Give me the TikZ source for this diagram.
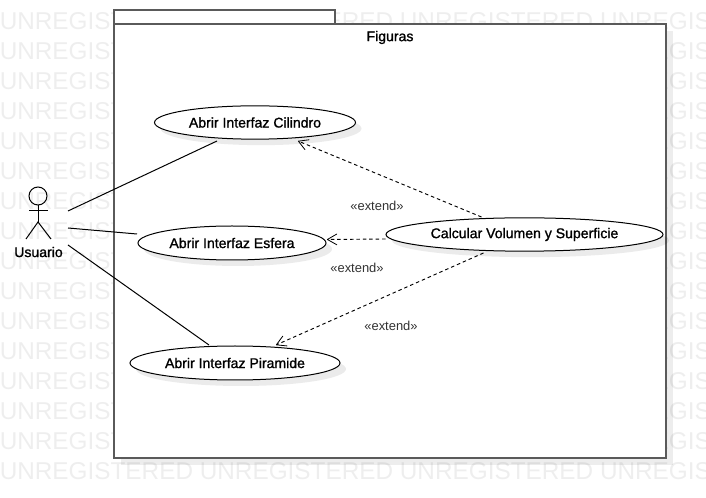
\documentclass[tikz,border=0pt]{standalone}
\usepackage{fontspec}
\setmainfont{Liberation Sans}
\newfontfamily\strongfont[FakeBold=1.2]{Liberation Sans}
\usetikzlibrary{arrows.meta,shadows,shapes.geometric}
\definecolor{wmark}{HTML}{EEEEEE}
\definecolor{framec}{HTML}{5A5A5A}
\definecolor{lblc}{HTML}{333333}
\tikzset{
  x=0.75pt,y=-0.75pt,
  wmtext/.style={anchor=base west,inner sep=0pt,text=wmark,font=\fontsize{18.25pt}{18.25pt}\selectfont},
  usecase/.style={ellipse,draw=black,fill=white,line width=0.75pt,inner sep=0pt,font=\fontsize{10.55pt}{12pt}\strongfont,
    drop shadow={shadow xshift=4.5pt,shadow yshift=-4.5pt,opacity=0.08,fill=black}},
  frameline/.style={draw=framec,fill=white,line width=1.2pt},
  assoc/.style={draw=black,line width=0.75pt},
  extendline/.style={draw=black,line width=0.7pt,dash pattern=on 2.6pt off 2.2pt,-{Straight Barb[length=7pt,width=8pt,line width=0.6pt,round]}},
  extlabel/.style={inner sep=0pt,text=lblc,font=\fontsize{9.7pt}{11pt}\selectfont},
  strong/.style={inner sep=0pt,text=black,font=\fontsize{10.55pt}{12pt}\strongfont},
  actorline/.style={draw=black,line width=0.75pt}
}
\begin{document}
\begin{tikzpicture}
\useasboundingbox (0,0) rectangle (706,498);
\clip (0,0) rectangle (706,498);
\foreach \k in {0,...,15}{
  \node[wmtext] (wm\k) at (-0.5,{29.5+30*\k}) {UNREGISTERED UNREGISTERED UNREGISTERED UNREGISTERED};
}
% frame
\fill[black,opacity=0.07] (121,31) rectangle (673,465);
\draw[frameline] (114,10) rectangle (335,24);
\draw[frameline] (114,24) rectangle (666,458);
\node[strong] (title) at (390,37.5) {Figuras};
% use cases
\node[usecase,minimum width=150.75pt,minimum height=25pt] (cil) at (255,122.5) {Abrir Interfaz Cilindro};
\node[usecase,minimum width=141pt,minimum height=25.5pt] (esf) at (232,243) {Abrir Interfaz Esfera};
\node[usecase,minimum width=157.5pt,minimum height=25.5pt] (pir) at (235,363) {Abrir Interfaz Piramide};
\node[usecase,minimum width=207.75pt,minimum height=25pt] (cal) at (524.5,234.5) {Calcular Volumen y Superficie};
% actor
\node[circle,draw=black,fill=none,line width=0.75pt,minimum size=13.5pt,inner sep=0pt] (head) at (38,196) {};
\coordinate (hip) at (38,222);
\coordinate (armL) at (29,211);
\coordinate (armR) at (48,211);
\coordinate (legL) at (26,239);
\coordinate (legR) at (51,239);
\draw[actorline] (head.south) -- (hip);
\draw[actorline] (armL) -- (armR);
\draw[actorline] (legL) -- (hip) -- (legR);
\node[strong] (usr) at (38.5,252) {Usuario};
% associations
\coordinate (a1) at (68,211);
\coordinate (a2) at (68,228);
\coordinate (a3) at (68,245);
\draw[assoc] (a1) -- ([shift={(-38,18.5)}]cil.center);
\draw[assoc] (a2) -- ([shift={(-95,-9)}]esf.center);
\draw[assoc] (a3) -- ([shift={(-26,-18)}]pir.center);
% extends
\draw[extendline] ([shift={(-43,-17.5)}]cal.center) -- ([shift={(43,18.5)}]cil.center);
\draw[extendline] ([shift={(-139,4.5)}]cal.center) -- ([shift={(95,-3.5)}]esf.center);
\draw[extendline] ([shift={(-41,18.5)}]cal.center) -- ([shift={(41,-18)}]pir.center);
\node[extlabel] (e1) at (377,205.5) {«extend»};
\node[extlabel] (e2) at (357,267.5) {«extend»};
\node[extlabel] (e3) at (391,325.5) {«extend»};
\end{tikzpicture}
\end{document}
